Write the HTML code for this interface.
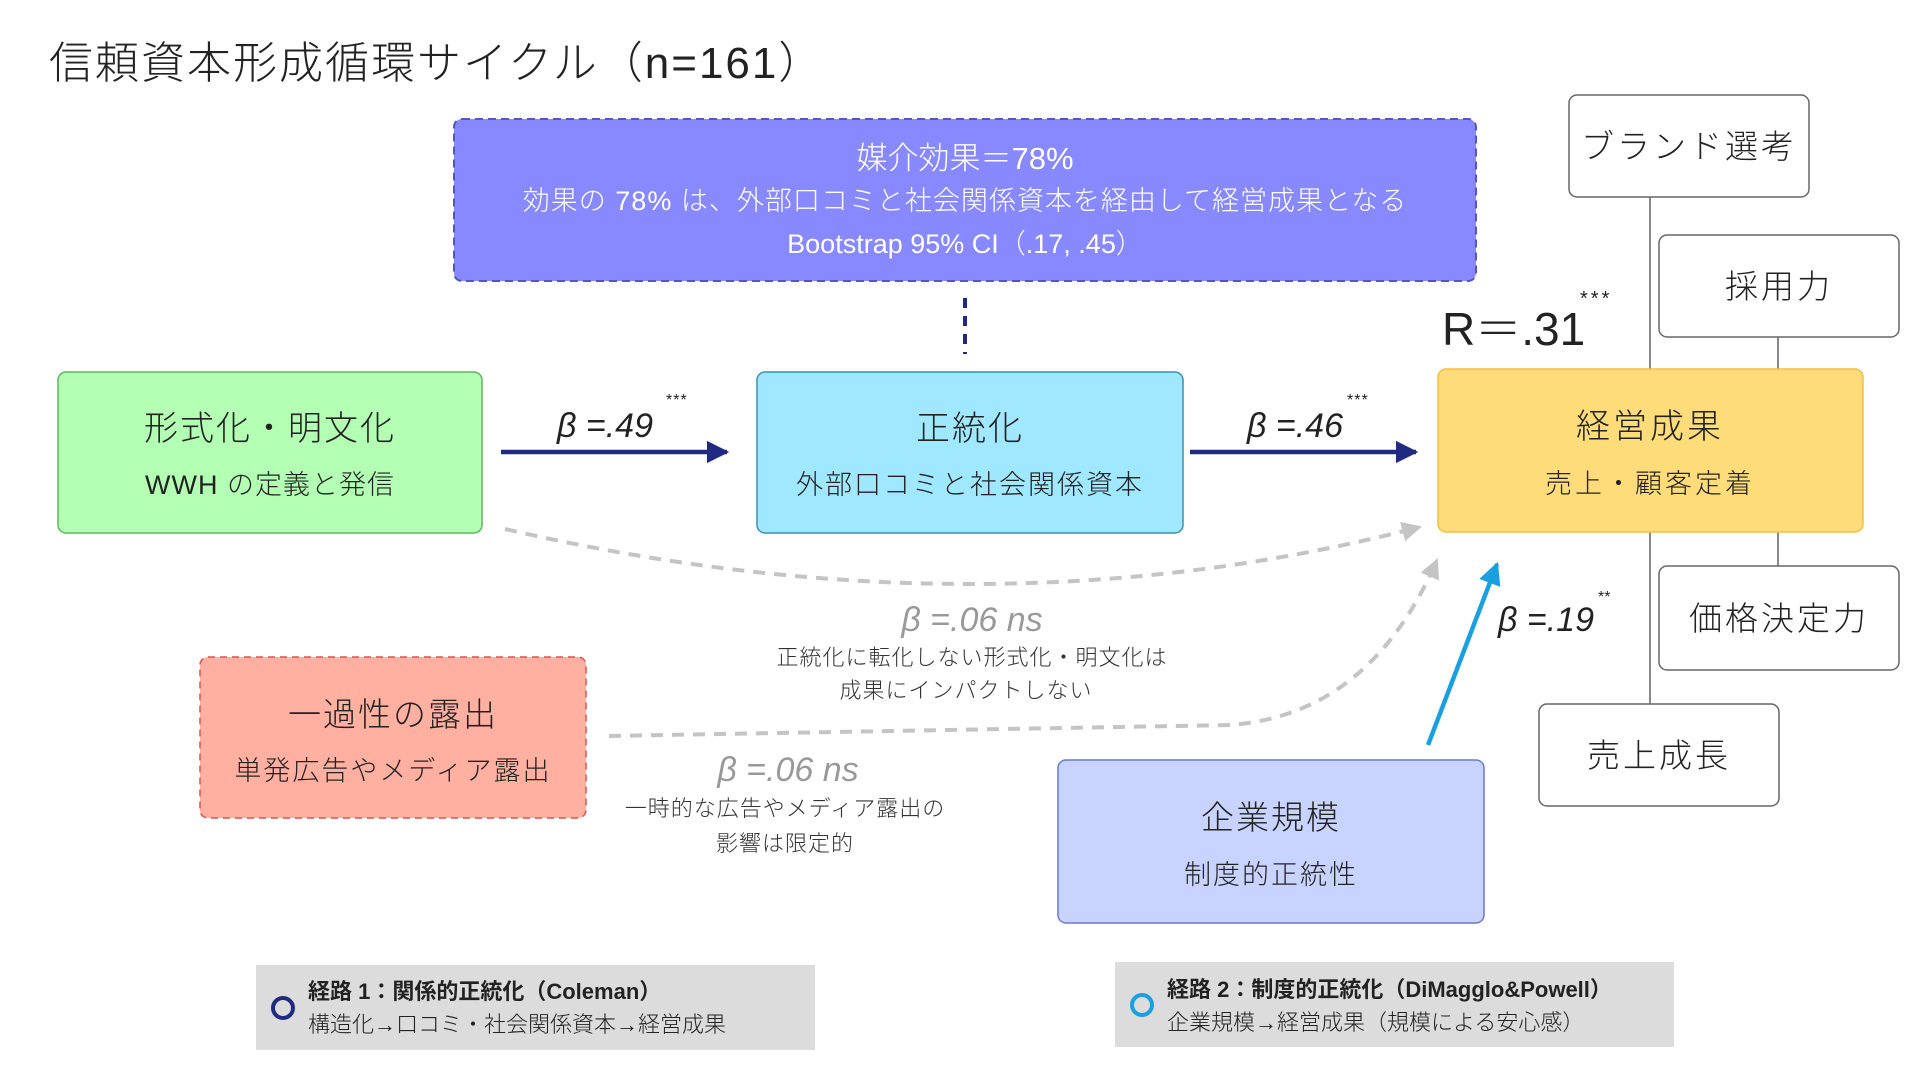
<!DOCTYPE html>
<html><head><meta charset="utf-8"><style>
html,body{margin:0;padding:0;background:#fff;}
svg{display:block;}
text{font-family:"Liberation Sans","Noto Sans CJK JP",sans-serif;font-weight:300;}
</style></head><body>
<svg width="1920" height="1080" viewBox="0 0 1920 1080" xmlns="http://www.w3.org/2000/svg">
<defs>
<marker id="an" viewBox="0 0 10 10" refX="9" refY="5" markerWidth="5" markerHeight="5" orient="auto"><path d="M0,0 L10,5 L0,10z" fill="#1f2a80"/></marker>
<marker id="ag" viewBox="0 0 10 10" refX="9" refY="5" markerWidth="5" markerHeight="5" orient="auto"><path d="M0,0 L10,5 L0,10z" fill="#c4c4c4"/></marker>
<marker id="ab" viewBox="0 0 10 10" refX="9" refY="5" markerWidth="5" markerHeight="5" orient="auto"><path d="M0,0 L10,5 L0,10z" fill="#1a9fe0"/></marker>
</defs>

<text x="49" y="78" font-size="44" fill="#222" letter-spacing="2">信頼資本形成循環サイクル（n=161）</text>

<!-- purple box -->
<rect x="454" y="119" width="1022" height="162" rx="8" fill="#8888ff" stroke="#5555bb" stroke-width="2" stroke-dasharray="8,5"/>
<text x="965" y="169" font-size="31" fill="#fff" text-anchor="middle">媒介効果＝78%</text>
<text x="965" y="210" font-size="27" fill="#fff" text-anchor="middle" letter-spacing="1">効果の 78% は、外部口コミと社会関係資本を経由して経営成果となる</text>
<text x="965" y="253" font-size="27" fill="#fff" text-anchor="middle">Bootstrap 95% CI（.17, .45）</text>
<line x1="965" y1="298" x2="965" y2="354" stroke="#1f2a80" stroke-width="4" stroke-dasharray="10,8"/>

<!-- right connector lines -->
<line x1="1650" y1="197" x2="1650" y2="704" stroke="#888" stroke-width="2"/>
<line x1="1778" y1="337" x2="1778" y2="566" stroke="#888" stroke-width="2"/>

<!-- right boxes -->
<rect x="1569" y="95" width="240" height="102" rx="8" fill="#fff" stroke="#666" stroke-width="1.5"/>
<text x="1689" y="158" font-size="33" fill="#222" text-anchor="middle" letter-spacing="3">ブランド選考</text>
<rect x="1659" y="235" width="240" height="102" rx="8" fill="#fff" stroke="#666" stroke-width="1.5"/>
<text x="1779" y="298" font-size="33" fill="#222" text-anchor="middle" letter-spacing="3">採用力</text>
<rect x="1659" y="566" width="240" height="104" rx="8" fill="#fff" stroke="#666" stroke-width="1.5"/>
<text x="1779" y="630" font-size="33" fill="#222" text-anchor="middle" letter-spacing="3">価格決定力</text>
<rect x="1539" y="704" width="240" height="102" rx="8" fill="#fff" stroke="#666" stroke-width="1.5"/>
<text x="1659" y="767" font-size="33" fill="#222" text-anchor="middle" letter-spacing="3">売上成長</text>

<!-- main boxes -->
<rect x="58" y="372" width="424" height="161" rx="8" fill="#b3ffb3" stroke="#5cb85c" stroke-width="1.5"/>
<text x="270" y="440" font-size="34" fill="#222" text-anchor="middle" letter-spacing="2">形式化・明文化</text>
<text x="270" y="494" font-size="27" fill="#222" text-anchor="middle" letter-spacing="1">WWH の定義と発信</text>

<rect x="757" y="372" width="426" height="161" rx="8" fill="#a0e8ff" stroke="#3a8fb0" stroke-width="1.5"/>
<text x="970" y="440" font-size="34" fill="#222" text-anchor="middle" letter-spacing="2">正統化</text>
<text x="970" y="494" font-size="27" fill="#222" text-anchor="middle" letter-spacing="2">外部口コミと社会関係資本</text>

<rect x="1438" y="369" width="425" height="163" rx="8" fill="#ffdc7a" stroke="#f0c040" stroke-width="1.5"/>
<text x="1650" y="438" font-size="34" fill="#222" text-anchor="middle" letter-spacing="3">経営成果</text>
<text x="1650" y="493" font-size="27" fill="#222" text-anchor="middle" letter-spacing="3">売上・顧客定着</text>

<text x="1442" y="345" font-size="46" fill="#222">R＝.31</text>
<text x="1580" y="305" font-size="20" fill="#222" letter-spacing="3">***</text>

<!-- arrows -->
<line x1="501" y1="452" x2="727" y2="452" stroke="#1f2a80" stroke-width="4.5" marker-end="url(#an)"/>
<text x="557" y="437" font-size="34" fill="#222" font-style="italic">β =.49</text>
<text x="666" y="405" font-size="16" fill="#222" letter-spacing="1">***</text>
<line x1="1190" y1="452" x2="1416" y2="452" stroke="#1f2a80" stroke-width="4.5" marker-end="url(#an)"/>
<text x="1247" y="437" font-size="34" fill="#222" font-style="italic">β =.46</text>
<text x="1347" y="405" font-size="16" fill="#222" letter-spacing="1">***</text>

<!-- gray curves -->
<path d="M505,529 Q985,640 1420,527" fill="none" stroke="#c4c4c4" stroke-width="4" stroke-dasharray="12,9" marker-end="url(#ag)"/>
<path d="M609,736 L1230,725 Q1370,715 1437,560" fill="none" stroke="#c4c4c4" stroke-width="4" stroke-dasharray="12,9" marker-end="url(#ag)"/>

<text x="972" y="631" font-size="34" fill="#999" text-anchor="middle" font-style="italic">β =.06 ns</text>
<text x="972" y="665" font-size="22" fill="#333" text-anchor="middle" letter-spacing="1">正統化に転化しない形式化・明文化は</text>
<text x="966" y="698" font-size="22" fill="#333" text-anchor="middle" letter-spacing="1">成果にインパクトしない</text>

<rect x="200" y="657" width="386" height="161" rx="8" fill="#ffb0a0" stroke="#e05050" stroke-width="1.5" stroke-dasharray="7,5"/>
<text x="393" y="726" font-size="33" fill="#222" text-anchor="middle" letter-spacing="2">一過性の露出</text>
<text x="393" y="780" font-size="27" fill="#222" text-anchor="middle" letter-spacing="2">単発広告やメディア露出</text>

<text x="788" y="781" font-size="34" fill="#999" text-anchor="middle" font-style="italic">β =.06 ns</text>
<text x="785" y="816" font-size="22" fill="#333" text-anchor="middle" letter-spacing="1">一時的な広告やメディア露出の</text>
<text x="785" y="851" font-size="22" fill="#333" text-anchor="middle" letter-spacing="1">影響は限定的</text>

<rect x="1058" y="760" width="426" height="163" rx="8" fill="#c8d4ff" stroke="#6a7acc" stroke-width="1.5"/>
<text x="1271" y="829" font-size="33" fill="#222" text-anchor="middle" letter-spacing="2">企業規模</text>
<text x="1271" y="884" font-size="27" fill="#222" text-anchor="middle" letter-spacing="2">制度的正統性</text>

<line x1="1428" y1="745" x2="1497" y2="564" stroke="#1a9fe0" stroke-width="4.5" marker-end="url(#ab)"/>
<text x="1498" y="631" font-size="34" fill="#222" font-style="italic">β =.19</text>
<text x="1598" y="602" font-size="16" fill="#222">**</text>

<!-- legends -->
<rect x="256" y="965" width="559" height="85" fill="#dcdcdc"/>
<circle cx="283" cy="1008" r="10" fill="none" stroke="#1f2a80" stroke-width="4"/>
<text x="308" y="999" font-size="22" fill="#222" font-weight="bold" style="font-weight:700">経路 1：関係的正統化（Coleman）</text>
<text x="308" y="1032" font-size="22" fill="#222">構造化→口コミ・社会関係資本→経営成果</text>

<rect x="1115" y="962" width="559" height="85" fill="#dcdcdc"/>
<circle cx="1142" cy="1005" r="10" fill="none" stroke="#1a9fe0" stroke-width="4"/>
<text x="1167" y="997" font-size="22" fill="#222" style="font-weight:700">経路 2：制度的正統化（DiMagglo&amp;Powell）</text>
<text x="1167" y="1030" font-size="22" fill="#222">企業規模→経営成果（規模による安心感）</text>
</svg>
</body></html>
